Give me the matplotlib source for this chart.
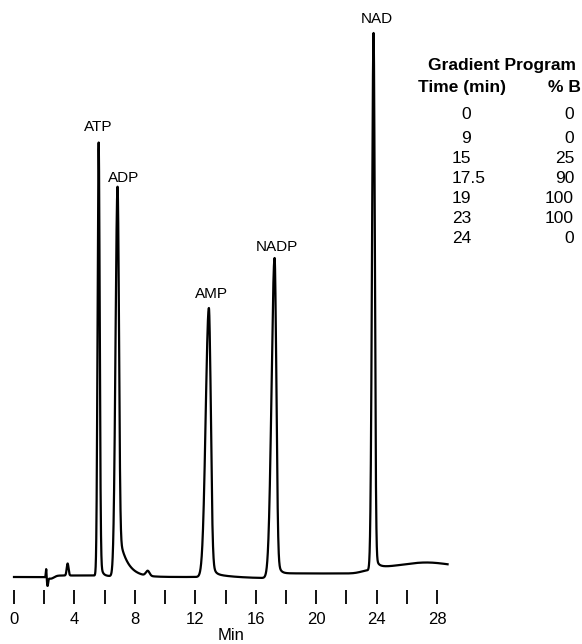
import numpy as np
import matplotlib
matplotlib.use("Agg")
import matplotlib.pyplot as plt

plt.rcParams['font.family'] = ['Liberation Sans', 'DejaVu Sans']

# ---------------- data ----------------
# main labelled peaks: retention time (min), apex height (detector units)
peak_names = ["ATP", "ADP", "AMP", "NADP", "NAD"]
peak_times = [5.60, 6.85, 12.90, 17.25, 23.80]
peak_heights = [434, 390, 269, 319, 544]
peak_sigma_left = [0.07, 0.13, 0.21, 0.20, 0.10]
peak_sigma_right = [0.07, 0.09, 0.12, 0.11, 0.08]

# small unlabelled features (injection disturbance, minor peaks, drift humps)
minor_times = [2.13, 2.22, 2.45, 3.55, 8.85, 23.50, 27.30]
minor_heights = [9, -8, -2, 12, 5, 3, 5]
minor_sigmas = [0.025, 0.04, 0.2, 0.06, 0.12, 0.5, 1.5]

# exponential tails after peaks
tail_starts = [5.62, 6.90, 13.00, 13.10, 17.35, 23.85]
tail_amps = [30, 45, 25, 5, 25, 20]
tail_taus = [0.12, 0.55, 0.15, 1.5, 0.15, 0.12]

# baseline level shifts (gradient)
step_times = [2.60, 6.50, 13.05, 17.50, 23.90]
step_sizes = [1.5, -1.5, -1.5, 5.0, 6.0]
step_widths = [0.25, 0.8, 0.1, 0.1, 0.1]

run_end = 28.7

# tick values
major_ticks = [0, 4, 8, 12, 16, 20, 24, 28]
minor_ticks = [2, 6, 10, 14, 18, 22, 26]

# gradient program table
grad_time = ["0", "9", "15", "17.5", "19", "23", "24"]
grad_b = ["0", "0", "25", "90", "100", "100", "0"]

# ---------------- build trace ----------------
t = np.linspace(0, run_end, 5741)


def asym_gauss(x, x0, h, sl, sr):
    s = np.where(x < x0, sl, sr)
    return h * np.exp(-0.5 * ((x - x0) / s) ** 2)


def tail(x, x0, a, tau, w=0.04):
    d = x - x0
    gate = 0.5 * (1 + np.tanh(d / w))
    return a * np.exp(-np.clip(d, 0, None) / tau) * gate


def step(x, x0, size, w):
    return size * 0.5 * (1 + np.tanh((x - x0) / w))


def background(x):
    b = np.zeros_like(x, dtype=float)
    for x0, h, s in zip(minor_times, minor_heights, minor_sigmas):
        b += asym_gauss(x, x0, h, s, s)
    for x0, a, tau in zip(tail_starts, tail_amps, tail_taus):
        b += tail(x, x0, a, tau)
    for x0, a, w in zip(step_times, step_sizes, step_widths):
        b += step(x, x0, a, w)
    return b


y = background(t)
pt = np.array(peak_times, dtype=float)
bg_at_apex = background(pt)
for i, (x0, h, sl, sr) in enumerate(zip(peak_times, peak_heights,
                                        peak_sigma_left, peak_sigma_right)):
    # core height so that the apex reaches the observed height
    others = bg_at_apex[i] + sum(
        asym_gauss(np.array([x0]), pt[j], peak_heights[j],
                   peak_sigma_left[j], peak_sigma_right[j])[0]
        for j in range(len(peak_times)) if j != i)
    y += asym_gauss(t, x0, h - others, sl, sr)

# ---------------- layout ----------------
W, H = 582, 644
X0_PX = 14.0
PX_PER_MIN = (437.0 - 14.0) / 28.0
BASE_PX = 577.0

fig = plt.figure(figsize=(W / 100, H / 100), dpi=100)
ax = fig.add_axes([0, 0, 1, 1])
ax.set_xlim(-X0_PX / PX_PER_MIN, (W - X0_PX) / PX_PER_MIN)
ax.set_ylim(BASE_PX - H, BASE_PX)

ax.plot(t, y, color="black", lw=1.6, solid_joinstyle="round")

for sp in ax.spines.values():
    sp.set_visible(False)
ax.spines['bottom'].set_position(('data', -13))
ax.set_yticks([])
ax.set_xticks(major_ticks)
ax.set_xticks(minor_ticks, minor=True)
ax.set_xticklabels([str(v) for v in major_ticks])
ax.tick_params(axis='x', which='both', direction='out', length=10, width=1.3,
               color='black', pad=6, labelsize=12)

fig.text(231 / W, 1 - 636 / H, "Min", ha="center", va="center", fontsize=12)

# peak labels (label baseline positions in pixels)
label_px = [(98, 131), (124, 182), (211.5, 298), (277, 251), (377, 23)]
for name, (lx, ly) in zip(peak_names, label_px):
    fig.text(lx / W, 1 - ly / H, name, ha="center", va="baseline", fontsize=11)

# gradient table
renderer = fig.canvas.get_renderer()


def ftxt(x, yb, s, **kw):
    return fig.text(x / W, 1 - yb / H, s, va="baseline", **kw)


ftxt(502, 70, "Gradient Program", ha="center", fontsize=12.5, fontweight="bold")
ftxt(462, 92, "Time (min)", ha="center", fontsize=12.5, fontweight="bold")
ftxt(581, 92, "% B", ha="right", fontsize=12.5, fontweight="bold")
row_base = [119, 143, 163, 183, 203, 223, 243]
DEC_X = 471
for tm, b, yb in zip(grad_time, grad_b, row_base):
    ip = tm.split(".")[0]
    probe = ftxt(0, yb, ip, ha="left", fontsize=12.5)
    wpx = probe.get_window_extent(renderer).width
    probe.remove()
    ftxt(DEC_X - wpx, yb, tm, ha="left", fontsize=12.5)
    ftxt(574, yb, b, ha="right", fontsize=12.5)

fig.savefig("out.png", dpi=100)
